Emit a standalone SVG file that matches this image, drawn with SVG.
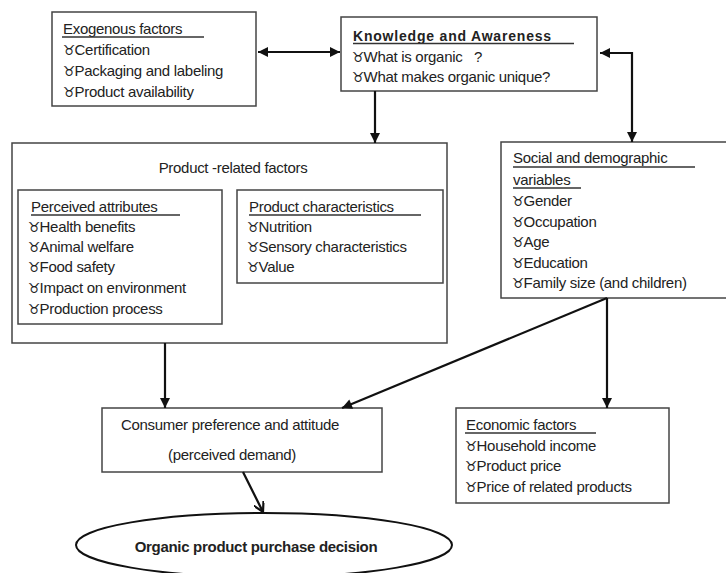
<svg xmlns="http://www.w3.org/2000/svg" width="726" height="573" viewBox="0 0 726 573">
<defs>
<style>
.box{fill:#fff;stroke:#444;stroke-width:1.5}
.t{font-family:"Liberation Sans",Arial,sans-serif;font-size:15px;fill:#222;letter-spacing:-0.3px;white-space:pre}
.k{font-family:"Liberation Sans",Arial,sans-serif;font-size:14px;fill:#222}
.b{font-family:"DejaVu Sans",sans-serif;font-size:14px;letter-spacing:0}
.ul{stroke:#333;stroke-width:1.5}
.c{fill:none;stroke:#111;stroke-width:2.2}
</style>
<marker id="ah" viewBox="0 0 10 10" refX="10" refY="5" markerWidth="11" markerHeight="10" markerUnits="userSpaceOnUse" orient="auto-start-reverse">
<path d="M0,0 L10,5 L0,10 z" fill="#111"/>
</marker>
<marker id="av" viewBox="0 0 10 10" refX="9" refY="5" markerWidth="11" markerHeight="11" markerUnits="userSpaceOnUse" orient="auto">
<path d="M0,0 L9,5 L0,10" fill="none" stroke="#111" stroke-width="2"/>
</marker>
</defs>
<rect width="726" height="573" fill="#fff"/>

<g id="exogenous">
<rect class="box" x="52" y="12" width="204" height="94"/>
<text class="t" x="63" y="34">Exogenous factors</text>
<line class="ul" x1="62" y1="37" x2="204" y2="37"/>
<text class="t" x="63" y="55"><tspan class="b">♉</tspan><tspan dx="-1">Certification</tspan></text>
<text class="t" x="63" y="76"><tspan class="b">♉</tspan><tspan dx="-1">Packaging and labeling</tspan></text>
<text class="t" x="63" y="97"><tspan class="b">♉</tspan><tspan dx="-1">Product availability</tspan></text>
</g>

<g id="knowledge">
<rect class="box" x="341" y="17" width="256" height="74"/>
<text class="k" x="353" y="41" font-weight="bold" letter-spacing="0.8">Knowledge and Awareness</text>
<line class="ul" x1="353" y1="43.5" x2="574" y2="43.5"/>
<text class="t" x="352" y="62"><tspan class="b">♉</tspan><tspan dx="-1">What is organic   ?</tspan></text>
<text class="t" x="352" y="82"><tspan class="b">♉</tspan><tspan dx="-1">What makes organic unique?</tspan></text>
</g>

<g id="product-related">
<rect class="box" x="12" y="143" width="435" height="200"/>
<text class="t" x="233" y="173" text-anchor="middle">Product -related factors</text>
</g>

<g id="perceived">
<rect class="box" x="18" y="190" width="204" height="134"/>
<text class="t" x="31" y="212">Perceived attributes</text>
<line class="ul" x1="31" y1="215" x2="180" y2="215"/>
<text class="t" x="28" y="232"><tspan class="b">♉</tspan><tspan dx="-1">Health benefits</tspan></text>
<text class="t" x="28" y="252"><tspan class="b">♉</tspan><tspan dx="-1">Animal welfare</tspan></text>
<text class="t" x="28" y="272"><tspan class="b">♉</tspan><tspan dx="-1">Food safety</tspan></text>
<text class="t" x="28" y="293"><tspan class="b">♉</tspan><tspan dx="-1">Impact on environment</tspan></text>
<text class="t" x="28" y="314"><tspan class="b">♉</tspan><tspan dx="-1">Production process</tspan></text>
</g>

<g id="characteristics">
<rect class="box" x="237" y="190" width="206" height="93"/>
<text class="t" x="249" y="212">Product characteristics</text>
<line class="ul" x1="249" y1="215" x2="421" y2="215"/>
<text class="t" x="247" y="232"><tspan class="b">♉</tspan><tspan dx="-1">Nutrition</tspan></text>
<text class="t" x="247" y="252"><tspan class="b">♉</tspan><tspan dx="-1">Sensory characteristics</tspan></text>
<text class="t" x="247" y="272"><tspan class="b">♉</tspan><tspan dx="-1">Value</tspan></text>
</g>

<g id="social">
<rect class="box" x="501" y="142" width="230" height="156"/>
<text class="t" x="513" y="163">Social and demographic</text>
<line class="ul" x1="513" y1="167" x2="695" y2="167"/>
<text class="t" x="513" y="185">variables</text>
<line class="ul" x1="513" y1="188" x2="581" y2="188"/>
<text class="t" x="512" y="206"><tspan class="b">♉</tspan><tspan dx="-1">Gender</tspan></text>
<text class="t" x="512" y="227"><tspan class="b">♉</tspan><tspan dx="-1">Occupation</tspan></text>
<text class="t" x="512" y="247"><tspan class="b">♉</tspan><tspan dx="-1">Age</tspan></text>
<text class="t" x="512" y="268"><tspan class="b">♉</tspan><tspan dx="-1">Education</tspan></text>
<text class="t" x="512" y="288"><tspan class="b">♉</tspan><tspan dx="-1">Family size (and children)</tspan></text>
</g>

<g id="consumer">
<rect class="box" x="102" y="408" width="280" height="64"/>
<text class="t" x="230" y="430" text-anchor="middle">Consumer preference and attitude</text>
<text class="t" x="232" y="460" text-anchor="middle">(perceived demand)</text>
</g>

<g id="economic">
<rect class="box" x="456" y="408" width="213" height="95"/>
<text class="t" x="466" y="430">Economic factors</text>
<line class="ul" x1="465" y1="433" x2="596" y2="433"/>
<text class="t" x="465" y="451"><tspan class="b">♉</tspan><tspan dx="-1">Household income</tspan></text>
<text class="t" x="465" y="471"><tspan class="b">♉</tspan><tspan dx="-1">Product price</tspan></text>
<text class="t" x="465" y="492"><tspan class="b">♉</tspan><tspan dx="-1">Price of related products</tspan></text>
</g>

<g id="decision">
<ellipse cx="264" cy="545" rx="188" ry="32" fill="#fff" stroke="#111" stroke-width="2"/>
<text class="t" x="256" y="552" text-anchor="middle" font-weight="bold" letter-spacing="-0.4">Organic product purchase decision</text>
</g>

<g id="connectors">
<line class="c" x1="258" y1="52" x2="340" y2="52" marker-start="url(#ah)" marker-end="url(#ah)"/>
<line class="c" x1="375" y1="91" x2="375" y2="143" marker-end="url(#ah)"/>
<path class="c" d="M600,53 H632 V142" marker-start="url(#ah)" marker-end="url(#ah)"/>
<line class="c" x1="165" y1="343" x2="165" y2="408" stroke-width="1.8" marker-end="url(#ah)"/>
<line class="c" x1="607" y1="298" x2="342" y2="408" marker-end="url(#ah)"/>
<line class="c" x1="607" y1="298" x2="607" y2="408" marker-end="url(#ah)"/>
<line class="c" x1="243" y1="472" x2="263" y2="512" stroke-width="1.8" marker-end="url(#av)"/>
</g>
</svg>
